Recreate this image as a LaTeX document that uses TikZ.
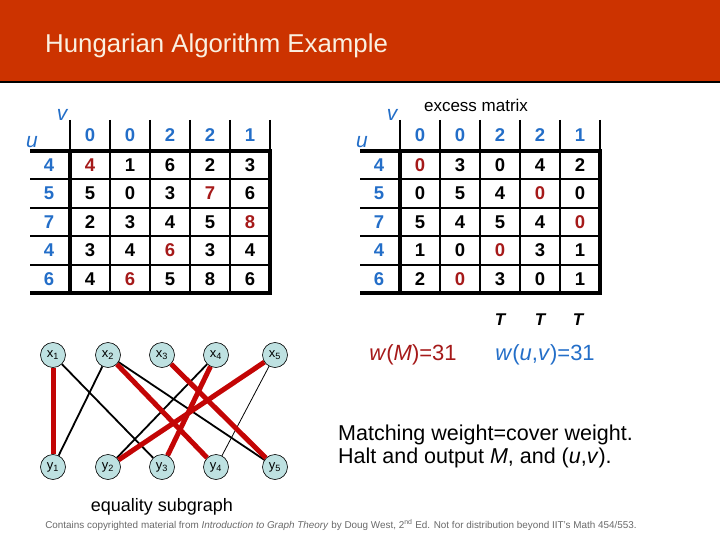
\documentclass[tikz,border=0pt]{standalone}
\usepackage{fontspec}
\setmainfont{Liberation Sans}
\usetikzlibrary{positioning}
\definecolor{Banner}{RGB}{204, 51, 0}
\definecolor{TitleCream}{RGB}{250, 240, 225}
\definecolor{CoverBlue}{RGB}{35, 110, 200}
\definecolor{MatchRed}{RGB}{165, 25, 25}
\definecolor{EdgeRed}{RGB}{195, 5, 5}
\definecolor{VertexFill}{RGB}{190, 225, 225}
\definecolor{NoteGray}{RGB}{105, 105, 105}

\begin{document}
\begin{tikzpicture}[x=1pt, y=-1pt,
    every node/.style={inner sep=0pt},
    cell/.style={font=\fontsize{18.5}{18.5}\selectfont\bfseries},
    hit/.style={cell, text=MatchRed},
    cover/.style={cell, text=CoverBlue},
    axis/.style={font=\fontsize{21}{21}\selectfont\itshape, text=CoverBlue},
    rule/.style={line width=2pt},
    frame/.style={line width=3.5pt},
    vertex/.style={circle, draw=black, line width=0.6pt, fill=VertexFill, minimum size=25pt, font=\fontsize{13}{13}\selectfont},
    eqedge/.style={line width=1.8pt},
    matched/.style={draw=EdgeRed, line width=5pt}
]
    \useasboundingbox (0,0) rectangle (720,540);

    % Banner
    \fill[Banner] (0,0) rectangle (720,82);
    \draw[line width=1.5pt] (0,82) -- (720,82);
    \node[anchor=base west, font=\fontsize{25.8}{25.8}\selectfont, text=TitleCream] (title) at (45,53) {Hungarian Algorithm Example};

    % Grids and covers of both tables
    \foreach \dx/\tab in {0/L, 330/R} {
        \foreach \c in {1,...,4} \draw[rule] ({\dx+70+40*\c},120) -- ({\dx+70+40*\c},293);
        \draw[rule] ({\dx+70},120) -- ({\dx+70},151);
        \draw[rule] ({\dx+270},120) -- ({\dx+270},151);
        \foreach \r in {1,...,4} \draw[rule] ({\dx+30},{151+28.4*\r}) -- ({\dx+270},{151+28.4*\r});
        \draw[frame] ({\dx+70},151) rectangle ({\dx+270},293);
        \draw[frame] ({\dx+30},151) -- ({\dx+70},151);
        \draw[frame] ({\dx+30},293) -- ({\dx+70},293);
        \foreach \lab [count=\c] in {0,0,2,2,1} \node[cover] (\tab-v\c) at ({\dx+50+40*\c},135) {\lab};
        \foreach \lab [count=\r] in {4,5,7,4,6} \node[cover] (\tab-u\r) at ({\dx+49},{136.8+28.4*\r}) {\lab};
        \node[axis] (\tab-vname) at ({\dx+62},115) {v};
        \node[axis] (\tab-uname) at ({\dx+32},142) {u};
    }

    % Weight matrix
    \foreach \row [count=\r] in {{hit/4,cell/1,cell/6,cell/2,cell/3},{cell/5,cell/0,cell/3,hit/7,cell/6},{cell/2,cell/3,cell/4,cell/5,hit/8},{cell/3,cell/4,hit/6,cell/3,cell/4},{cell/4,hit/6,cell/5,cell/8,cell/6}}
        \foreach \st/\val [count=\c] in \row
            \node[\st] (L-\r-\c) at ({50+40*\c},{136.8+28.4*\r}) {\val};

    % Excess matrix
    \node[font=\fontsize{17}{17}\selectfont] (excess) at (476,105) {excess matrix};
    \foreach \row [count=\r] in {{hit/0,cell/3,cell/0,cell/4,cell/2},{cell/0,cell/5,cell/4,hit/0,cell/0},{cell/5,cell/4,cell/5,cell/4,hit/0},{cell/1,cell/0,hit/0,cell/3,cell/1},{cell/2,hit/0,cell/3,cell/0,cell/1}}
        \foreach \st/\val [count=\c] in \row
            \node[\st] (R-\r-\c) at ({380+40*\c},{136.8+28.4*\r}) {\val};

    % Equality subgraph
    \foreach \i/\px in {1/53, 2/108, 3/162, 4/216, 5/275} {
        \node[vertex] (x\i) at (\px,355) {x\textsubscript{\i}};
        \node[vertex] (y\i) at (\px,467) {y\textsubscript{\i}};
    }
    \draw[eqedge] (x1) -- (y3);
    \draw[eqedge] (x2) -- (y1);
    \draw[eqedge] (x2) -- (y5);
    \draw[eqedge] (x4) -- (y2);
    \draw[line width=0.8pt] (x5) -- (y4);
    \draw[matched] (x1) -- (y1);
    \draw[matched] (x2) -- (y4);
    \draw[matched] (x3) -- (y5);
    \draw[matched] (x4) -- (y3);
    \draw[matched] (x5) -- (y2);
    \node[font=\fontsize{18}{18}\selectfont] (eqname) at (162,507) {equality subgraph};

    % Weights
    \foreach \px [count=\k] in {500, 540, 578}
        \node[font=\fontsize{17}{17}\selectfont\bfseries\itshape] (T\k) at (\px,320) {T};
    \node[font=\fontsize{22}{22}\selectfont, text=MatchRed] (wM) at (413,355) {\textit{w}(\textit{M})=31};
    \node[font=\fontsize{22}{22}\selectfont, text=CoverBlue] (wuv) at (545,355) {\textit{w}(\textit{u},\textit{v})=31};
    \node[anchor=west, align=left, font=\fontsize{21.5}{23}\selectfont] (halt) at (338,446) {Matching weight=cover weight.\\Halt and output \textit{M}, and (\textit{u},\textit{v}).};

    % Credit line
    \node[font=\fontsize{9.9}{9.9}\selectfont, text=NoteGray] (credit) at (341,525) {Contains copyrighted material from \textit{Introduction to Graph Theory} by Doug West, 2\textsuperscript{nd} Ed. Not for distribution beyond IIT's Math 454/553.};
\end{tikzpicture}
\end{document}
